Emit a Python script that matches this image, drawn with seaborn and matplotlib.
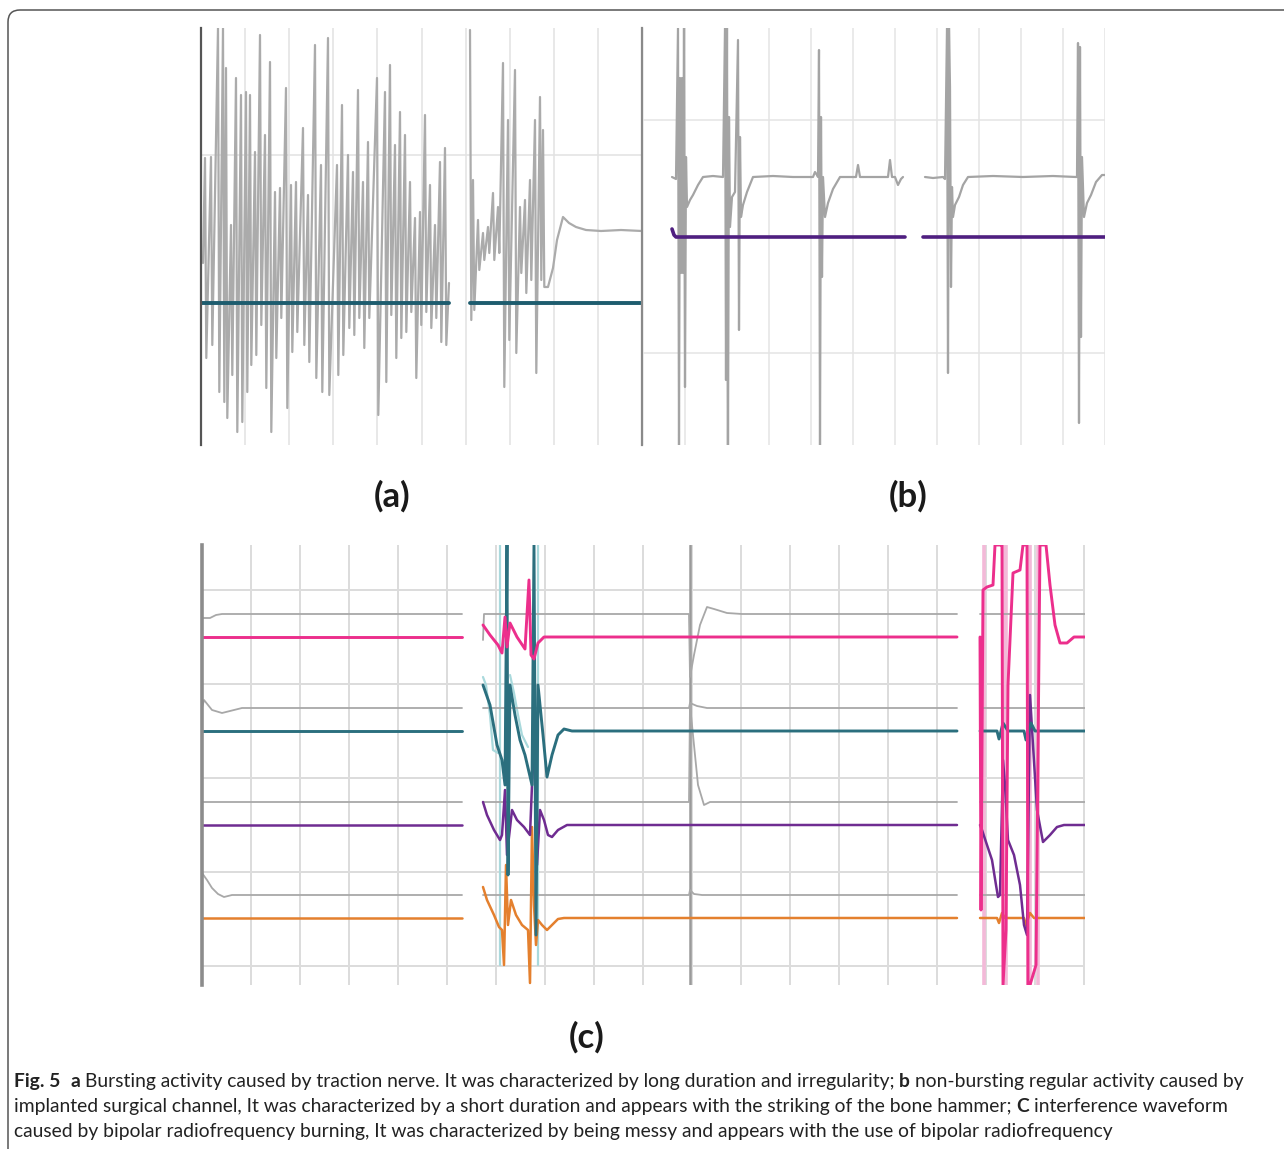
import numpy as np
import pandas as pd
import matplotlib.pyplot as plt
import seaborn as sns
from matplotlib.patches import FancyBboxPatch

W, H = 1284, 1149
sns.set_style('white')
plt.rcParams['font.family'] = ['Lato', 'DejaVu Sans']
CAP_FONT = ['Lato', 'DejaVu Sans']

# ---------------- panel (a): bursting activity ----------------
# time in ms, amplitude in uV (teal channel = 0)
a_burst1_t = [4, 10, 17, 22, 25, 30, 35, 40, 45, 49, 54, 59, 64, 69, 74, 79, 85, 90, 95, 102,
              107, 114, 120, 127, 136, 141, 147, 152, 157, 162, 167, 176, 184, 189, 194, 199,
              204, 209, 214, 219, 224, 229, 234, 239, 244]
a_burst1_top = [145, 146, 275, 275, 235, 78, 225, 208, 211, 208, 151, 268, 168, 241, 111, 115,
                215, 118, 121, 175, 108, 258, 138, 265, 138, 198, 148, 131, 213, 121, 161, 225,
                211, 238, 158, 191, 168, 121, 85, 91, 188, 118, 78, 141, 155]
a_burst1_bot = [-55, -42, -89, -99, -115, -72, -129, -119, -89, -62, -52, -22, -85, -129, -55,
                -15, -105, -49, -29, -42, -59, -75, -89, -92, -72, -52, -25, -32, -15, -45, -15,
                -112, -79, -12, -55, -35, -29, -9, -75, -22, -9, -25, -15, -39, -42]
a_burst1_start = (2, 40)
a_burst1_end = (248, 20)

a_burst2_t = [269, 272, 277, 282, 287, 292, 297, 302, 307, 314, 319, 324, 329, 334, 339, 342]
a_burst2_top = [273, 123, 83, 70, 76, 110, 96, 240, 183, 233, 96, 103, 123, 183, 206, 173]
a_burst2_bot = [-17, -7, 33, 43, 50, 43, 50, -84, -37, -50, 30, 10, 23, -70, 23, 16]
a_tail_t = [347, 352, 356, 362, 368, 375, 385, 400, 420, 441]
a_tail_amp = [16, 35, 63, 86, 80, 76, 73, 72, 73, 72]

a_teal_t1 = [0, 248]
a_teal_t2 = [269, 441]
a_teal_amp = [0, 0]

# ---------------- panel (b): non-bursting regular activity ----------------
b_gray1_t = [29, 33, 35, 36, 37, 38, 39, 40, 41, 42, 43, 44, 47, 50, 55, 60, 70, 80, 82, 83,
             84, 85, 86, 87, 89, 92, 95, 96, 97, 98, 100, 104, 110, 130, 150, 170, 172, 174, 175, 176,
             177, 178, 179, 180, 182, 185, 190, 197, 213, 215, 217, 245, 247, 249, 252, 255, 258, 260]
b_gray1_amp = [60, 58, 209, -208, 159, -36, 159, -36, 209, -150, 80, 30, 37, 42, 52, 60, 61, 60, 209, -143,
               209, -208, 120, 10, 40, 45, 197, -93, 100, 20, 32, 45, 60, 61, 60, 60, 65, 62, 60, 187,
               -208, 120, -40, 60, 20, 34, 48, 60, 60, 72, 60, 60, 77, 60, 60, 52, 58, 60]
b_gray2_t = [282, 290, 300, 302, 304, 305, 306, 307, 308, 309, 310, 312, 316, 320, 325, 350, 380,
             410, 433, 434, 435, 436, 437, 438, 439, 441, 444, 448, 453, 459, 462]
b_gray2_amp = [60, 59, 60, 58, 209, -136, 209, 150, -50, 50, 20, 32, 40, 52, 60, 61, 60,
               61, 60, 60, 194, -186, 190, -100, 80, 20, 34, 42, 55, 62, 62]
b_purple1_t = [29, 31, 33, 262]
b_purple1_amp = [8, 2, 0, 0]
b_purple2_t = [280, 462]
b_purple2_amp = [0, 0]

# ---------------- panel (c): interference waveform ----------------
c_gray1 = {'A': ([0, 8, 14, 20, 260], [367, 367, 370, 371, 371]),
           'B': ([281, 282, 300, 487, 488, 492, 498, 505, 512, 525, 540, 755],
                 [345, 371, 371, 371, 308, 330, 360, 378, 376, 372, 371, 371]),
           'C': ([778, 883], [371, 371])}
c_pink = {'A': ([0, 260], [348, 348]),
          'B': ([281, 288, 296, 300, 303, 305, 308, 315, 323, 327, 329, 332, 336, 342, 755],
                [360, 350, 340, 332, 368, 338, 362, 348, 336, 405, 330, 326, 342, 348, 348]),
          'C': ([778, 779, 781, 785, 791, 793, 798, 800, 801, 804, 806, 811, 818, 821, 825, 826,
                 828, 834, 838, 844, 848, 853, 858, 865, 872, 883],
                [348, 75, 395, 398, 400, 440, 440, 440, 0, 55, 300, 412, 415, 440, 440, 0,
                 0, 20, 440, 440, 400, 360, 342, 342, 348, 348])}
c_gray2 = {'A': ([0, 2, 10, 20, 40, 260], [277, 285, 275, 272, 277, 277]),
           'B': ([281, 487, 488, 495, 505, 755], [277, 277, 282, 279, 277, 277]),
           'C': ([778, 883], [277, 277])}
c_teal = {'A': ([0, 260], [254, 254]),
          'B': ([281, 288, 295, 300, 303, 305, 306, 308, 313, 318, 323, 330, 332, 334, 336, 341,
                 345, 350, 356, 362, 370, 755],
                [300, 280, 240, 225, 200, 440, 110, 300, 270, 245, 230, 200, 440, 50, 300, 250,
                 208, 230, 250, 256, 254, 254]),
          'C': ([778, 795, 797, 801, 806, 822, 824, 829, 833, 883],
                [254, 254, 246, 262, 254, 254, 245, 262, 254, 254])}
c_gray3 = {'A': ([0, 260], [183, 183]),
           'B': ([281, 487, 488, 491, 496, 502, 508, 755], [183, 183, 280, 250, 200, 180, 183, 183]),
           'C': ([778, 883], [183, 183])}
c_purple = {'A': ([0, 260], [160, 160]),
            'B': ([281, 285, 292, 298, 300, 303, 305, 307, 310, 315, 322, 328, 331, 333, 335, 338,
                   342, 346, 350, 356, 365, 755],
                  [183, 170, 155, 145, 150, 195, 130, 148, 175, 165, 158, 150, 225, 215, 120, 175,
                   165, 150, 148, 155, 160, 160]),
            'C': ([778, 780, 785, 790, 794, 796, 798, 801, 803, 806, 812, 818, 822, 825, 828, 831,
                   835, 841, 848, 855, 862, 883],
                  [160, 155, 140, 125, 100, 88, 90, 225, 200, 145, 130, 100, 60, 50, 290, 240,
                   175, 143, 150, 158, 160, 160])}
c_gray4 = {'A': ([0, 5, 10, 16, 22, 30, 260], [112, 105, 97, 91, 88, 90, 90]),
           'B': ([281, 487, 488, 492, 500, 755], [90, 90, 95, 91, 90, 90]),
           'C': ([778, 883], [90, 90])}
c_orange = {'A': ([0, 260], [67, 67]),
            'B': ([281, 285, 292, 297, 300, 302, 304, 306, 309, 314, 320, 326, 328, 330, 332, 334,
                   336, 340, 345, 350, 356, 362, 755],
                  [98, 85, 70, 58, 55, 20, 120, 60, 85, 70, 60, 55, 2, 158, 80, 40,
                   65, 60, 55, 60, 66, 67, 67]),
            'C': ([778, 795, 797, 800, 803, 822, 824, 828, 832, 883],
                  [67, 67, 62, 72, 67, 67, 60, 72, 67, 67])}
c_teal_ghost = {'g1': ([281, 284, 288, 291, 296], [308, 300, 270, 235, 232]),
                'g2': ([308, 312, 316, 320, 326], [310, 292, 270, 250, 238])}
c_teal_ghost_strokes = [298, 336]
c_pink_ghost_strokes = [782, 802, 804, 826, 828, 836]
c_marker_t = 488

caption_lines = [
    [("Fig. 5", True, 0), ("a", True, 2),
     ("Bursting activity caused by traction nerve. It was characterized by long duration and irregularity;", False, 1),
     ("b", True, 1), ("non-bursting regular activity caused by", False, 1)],
    [("implanted surgical channel, It was characterized by a short duration and appears with the striking of the bone hammer;", False, 0),
     ("C", True, 1), ("interference waveform", False, 1)],
    [("caused by bipolar radiofrequency burning, It was characterized by being messy and appears with the use of bipolar radiofrequency", False, 0)],
]


def add(rows, trace, seg, t, amp):
    for ti, ai in zip(t, amp):
        rows.append({'t': ti, 'amp': ai, 'trace': trace, 'seg': f'{trace}-{seg}'})


def zigzag(t, top, bot, half=1.3):
    xs, ys = [], []
    for ti, hi, lo in zip(t, top, bot):
        xs += [ti, ti + half]
        ys += [hi, lo]
    return xs, ys


def draw(ax, df, colors, widths):
    order = list(colors.keys())
    sns.lineplot(data=df, x='t', y='amp', hue='trace', size='trace', hue_order=order,
                 size_order=order, palette=colors, sizes=widths, units='seg',
                 estimator=None, sort=False, legend=False, ax=ax)
    ax.set(xlabel='', ylabel='')
    ax.tick_params(length=0, labelbottom=False, labelleft=False)
    ax.set_axisbelow(True)
    for s in ax.spines.values():
        s.set_visible(False)


def panel_axes(x0, y0, x1, y1):
    return fig.add_axes([x0 / W, 1 - y1 / H, (x1 - x0) / W, (y1 - y0) / H])


fig = plt.figure(figsize=(W / 100, H / 100), dpi=100)
fig.patch.set_facecolor('white')

# ---- (a)
rows = []
zx1, zy1 = zigzag(a_burst1_t, a_burst1_top, a_burst1_bot)
add(rows, 'gray', 1, [a_burst1_start[0]] + zx1 + [a_burst1_end[0]],
    [a_burst1_start[1]] + zy1 + [a_burst1_end[1]])
zx2, zy2 = zigzag(a_burst2_t, a_burst2_top, a_burst2_bot)
add(rows, 'gray', 2, zx2 + a_tail_t, zy2 + a_tail_amp)
add(rows, 'teal', 1, a_teal_t1, a_teal_amp)
add(rows, 'teal', 2, a_teal_t2, a_teal_amp)
ax_a = panel_axes(201, 28, 642, 445)
draw(ax_a, pd.DataFrame(rows), {'gray': '#ababab', 'teal': '#1d5c6e'}, {'gray': 1.6, 'teal': 2.8})
ax_a.set_xlim(0, 441)
ax_a.set_ylim(-142, 275)
ax_a.set_xticks(np.arange(0, 442, 44.1))
ax_a.set_yticks([148])
ax_a.grid(True, color='#e2e2e2', lw=1.1)
ax_a.spines['left'].set_visible(True)
ax_a.spines['left'].set_color('#555555')
ax_a.spines['left'].set_linewidth(1.6)
ax_a.spines['right'].set_visible(True)
ax_a.spines['right'].set_color('#8a8a8a')
ax_a.spines['right'].set_linewidth(1.6)

# ---- (b)
rows = []
add(rows, 'gray', 1, b_gray1_t, b_gray1_amp)
add(rows, 'gray', 2, b_gray2_t, b_gray2_amp)
add(rows, 'purple', 1, b_purple1_t, b_purple1_amp)
add(rows, 'purple', 2, b_purple2_t, b_purple2_amp)
ax_b = panel_axes(643, 28, 1105, 445)
draw(ax_b, pd.DataFrame(rows), {'gray': '#a4a4a4', 'purple': '#4f1f80'}, {'gray': 1.6, 'purple': 2.6})
ax_b.set_xlim(0, 462)
ax_b.set_ylim(-208, 209)
ax_b.set_xticks(np.arange(0, 463, 42))
ax_b.set_yticks([117, -116])
ax_b.grid(True, color='#e4e4e4', lw=1.1)

# ---- (c)
rows = []
for k, st in enumerate(c_teal_ghost_strokes):
    add(rows, 'teal_ghost', f's{k}', [st, st], [20, 440])
for seg, (t, amp) in c_teal_ghost.items():
    add(rows, 'teal_ghost', seg, t, amp)
for k, st in enumerate(c_pink_ghost_strokes):
    add(rows, 'pink_ghost', f's{k}', [st, st], [0, 440])
for name, tr in [('gray1', c_gray1), ('gray2', c_gray2), ('gray3', c_gray3), ('gray4', c_gray4),
                 ('orange', c_orange), ('purple', c_purple), ('teal', c_teal), ('pink', c_pink)]:
    for seg, (t, amp) in tr.items():
        add(rows, name, seg, t, amp)
c_colors = {'teal_ghost': '#a9d9dc', 'pink_ghost': '#f3b9d8',
            'gray1': '#a8a8a8', 'gray2': '#a8a8a8', 'gray3': '#a8a8a8', 'gray4': '#a8a8a8',
            'orange': '#e4802e', 'purple': '#6f2c91', 'teal': '#2b6f7e', 'pink': '#ec2f8c'}
c_widths = {'teal_ghost': 1.6, 'pink_ghost': 2.6, 'gray1': 1.3, 'gray2': 1.3, 'gray3': 1.3,
            'gray4': 1.3, 'orange': 1.8, 'purple': 1.8, 'teal': 2.1, 'pink': 2.1}
ax_c = panel_axes(202, 545, 1085, 985)
draw(ax_c, pd.DataFrame(rows), c_colors, c_widths)
ax_c.set_xlim(0, 883)
ax_c.set_ylim(0, 440)
ax_c.set_xticks(np.arange(0, 883, 49))
ax_c.set_yticks([395, 301, 207, 113, 19])
ax_c.grid(True, color='#dcdcdc', lw=1.4)
ax_c.axvline(c_marker_t, color='#9a9a9a', lw=1.8, zorder=1.5)
ax_c.spines['left'].set_visible(True)
ax_c.spines['left'].set_color('#8c8c8c')
ax_c.spines['left'].set_linewidth(2.6)

# ---- panel labels
for lab, (x, y) in {'(a)': (392, 496), '(b)': (908, 496), '(c)': (587, 1037)}.items():
    fig.text(x / W, 1 - y / H, lab, ha='center', va='center', fontsize=25,
             fontweight='bold', family=CAP_FONT, color='#1a1a1a')

# ---- caption with bold pieces
renderer = fig.canvas.get_renderer()


def text_width(s, size, bold):
    t = fig.text(0, 0, s, fontsize=size, fontweight='bold' if bold else 'normal', family=CAP_FONT)
    w = t.get_window_extent(renderer=renderer).width
    t.remove()
    return w


def line_width(pieces, size):
    sp = text_width('n n', size, False) - text_width('nn', size, False)
    return sum(text_width(s, size, b) + n * sp for s, b, n in pieces)


cap_size = 12 * 1229 / line_width(caption_lines[0], 12)
space = text_width('n n', cap_size, False) - text_width('nn', cap_size, False)
for pieces, base in zip(caption_lines, [1087, 1112, 1137]):
    x = 14
    for s, bold, n in pieces:
        x += n * space
        fig.text(x / W, 1 - base / H, s, fontsize=cap_size, fontweight='bold' if bold else 'normal',
                 family=CAP_FONT, va='baseline', ha='left', color='#222222')
        x += text_width(s, cap_size, bold)

# rounded outer frame
frame = FancyBboxPatch((0.08, -1.0), 14.0, (H - 10) / 100 + 1.0,
                       boxstyle='round,pad=0,rounding_size=0.12', transform=fig.dpi_scale_trans,
                       fill=False, ec='#555555', lw=1.1)
fig.add_artist(frame)

fig.savefig('out.png', dpi=100, facecolor='white')
